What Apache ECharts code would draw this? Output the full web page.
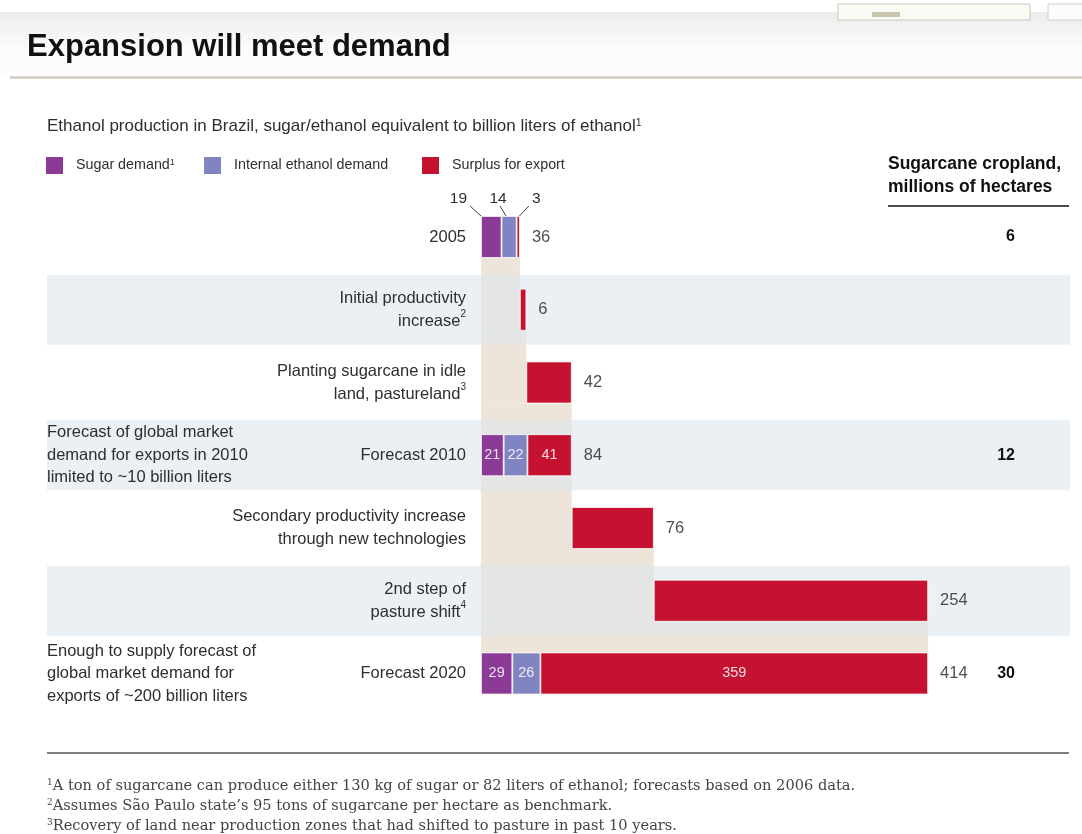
<!DOCTYPE html>
<html>
<head>
<meta charset="utf-8">
<script src="https://cdn.jsdelivr.net/npm/echarts@6/dist/echarts.min.js"></script>
<style>
  html, body { margin: 0; padding: 0; background: #fff; }
  #chart { width: 1082px; height: 834px; }
</style>
</head>
<body>
<div id="chart"></div>
<script>
// ---------------- data ----------------
const categories = [
  '2005',
  'Initial productivity\nincrease',
  'Planting sugarcane in idle\nland, pastureland',
  'Forecast 2010',
  'Secondary productivity increase\nthrough new technologies',
  '2nd step of\npasture shift',
  'Forecast 2020'
];
const categoryFootnotes = ['', '2', '3', '', '', '4', ''];
const rowKinds = ['total', 'step', 'step', 'total', 'step', 'step', 'total'];
const sugarDemand   = [19, '-', '-', 21, '-', '-', 29];
const ethanolDemand = [14, '-', '-', 22, '-', '-', 26];
const surplusExport = [3, 6, 42, 41, 76, 254, 359];
const croplandMha   = [6, '', '', 12, '', '', 30];
const sideNotes = [
  '', '', '',
  'Forecast of global market\ndemand for exports in 2010\nlimited to ~10 billion liters',
  '', '',
  'Enough to supply forecast of\nglobal market demand for\nexports of ~200 billion liters'
];
const seriesNames = ['Sugar demand', 'Internal ethanol demand', 'Surplus for export'];
const footnotes = [
  ['1', 'A ton of sugarcane can produce either 130 kg of sugar or 82 liters of ethanol; forecasts based on 2006 data.'],
  ['2', 'Assumes São Paulo state’s 95 tons of sugarcane per hectare as benchmark.'],
  ['3', 'Recovery of land near production zones that had shifted to pasture in past 10 years.']
];

// ---------------- derived (waterfall) ----------------
const num = v => (v === '-' || v === '' ? 0 : v);
const baseVals = [], endCum = [], cumBefore = [];
let cum = 0;
rowKinds.forEach((k, i) => {
  cumBefore.push(cum);
  if (k === 'total') {
    baseVals.push('-');
    cum = num(sugarDemand[i]) + num(ethanolDemand[i]) + num(surplusExport[i]);
  } else {
    baseVals.push(cum);
    cum += surplusExport[i];
  }
  endCum.push(cum);
});

// ---------------- styles ----------------
const SANS = "'Liberation Sans', Arial, sans-serif";
const SERIF = "'DejaVu Serif', 'Liberation Serif', serif";
const C_SUGAR = '#8b3a96', C_ETH = '#8084c0', C_SURP = '#c41230';
const BAR_H = 42;
const TXT = '#2e2e2e';
const FS = 16.5;

const chart = echarts.init(document.getElementById('chart'), null, { renderer: 'canvas' });

const barCommon = {
  type: 'bar', stack: 'w', barWidth: BAR_H, z: 3, silent: true,
  itemStyle: { borderColor: '#ffffff', borderWidth: 0.8 },
  label: {
    show: true, position: 'inside', color: 'rgba(255,255,255,0.85)',
    fontFamily: SANS, fontSize: 14.5,
    formatter: p => (p.dataIndex === 0 || rowKinds[p.dataIndex] !== 'total') ? '' : String(p.value)
  }
};

const legendCommon = {
  icon: 'rect', itemWidth: 17, itemHeight: 17, top: 157, padding: 0, selectedMode: false,
  itemStyle: { borderWidth: 0 },
  textStyle: {
    fontFamily: SANS, fontSize: 14.3, color: TXT, padding: [0, 0, 0, 8],
    rich: { s: { fontFamily: SANS, fontSize: 9, color: TXT, verticalAlign: 'top', lineHeight: 10 } }
  }
};

const option = {
  backgroundColor: '#ffffff',
  animation: false,
  legend: [
    Object.assign({}, legendCommon, { left: 46, data: [seriesNames[0]], formatter: n => n + '{s|1}' }),
    Object.assign({}, legendCommon, { left: 204, data: [seriesNames[1]] }),
    Object.assign({}, legendCommon, { left: 422, data: [seriesNames[2]] })
  ],
  grid: { left: 481, top: 200.6, width: 540, height: 509.25 },
  xAxis: { type: 'value', min: 0, max: 500, show: false },
  yAxis: [
    {
      type: 'category', inverse: true, data: categories, z: 10,
      axisLine: { show: false }, axisTick: { show: false }, splitLine: { show: false },
      axisLabel: {
        interval: 0, margin: 15, fontFamily: SANS, fontSize: FS, lineHeight: 23, color: TXT,
        formatter: (v, i) => v + (categoryFootnotes[i] ? '{s|' + categoryFootnotes[i] + '}' : ''),
        rich: { s: { fontFamily: SANS, fontSize: 10, color: TXT, verticalAlign: 'top', lineHeight: 12 } }
      }
    },
    {
      type: 'category', inverse: true, data: categories, position: 'right', offset: 0, z: 10,
      axisLine: { show: false }, axisTick: { show: false }, splitLine: { show: false },
      axisLabel: {
        interval: 0, margin: -6, align: 'right', fontFamily: SANS, fontSize: 16, fontWeight: 'bold', color: '#111',
        formatter: (v, i) => String(croplandMha[i])
      }
    },
    {
      type: 'category', inverse: true, data: categories, position: 'left', offset: 434, z: 10,
      axisLine: { show: false }, axisTick: { show: false }, splitLine: { show: false },
      axisLabel: {
        interval: 0, margin: 0, align: 'left', fontFamily: SANS, fontSize: FS, lineHeight: 22.5, color: TXT,
        formatter: (v, i) => sideNotes[i]
      }
    }
  ],
  series: [
    // beige running-total shadow
    {
      type: 'custom', z: 1, silent: true, clip: false,
      encode: { x: 0, y: 1 },
      data: cumBefore.map((c, i) => [c, i]).filter(d => d[1] > 0),
      renderItem: (params, api) => {
        const i = api.value(1);
        const p0 = api.coord([0, i]);
        const p1 = api.coord([api.value(0), i]);
        const band = api.size([0, 1])[1];
        const yBottom = p0[1] + BAR_H / 2;
        return {
          type: 'rect',
          shape: { x: p0[0], y: yBottom - band, width: p1[0] - p0[0], height: band },
          style: { fill: '#ede4da' }
        };
      }
    },
    // alternating row bands
    {
      type: 'custom', z: 2, silent: true, clip: false,
      encode: { x: 0, y: 1 },
      data: categories.map((c, i) => [0, i]).filter(d => d[1] % 2 === 1),
      renderItem: (params, api) => {
        const c = api.coord([0, api.value(1)]);
        return {
          type: 'rect',
          shape: { x: 47, y: c[1] - 35, width: 1023, height: 70 },
          style: { fill: 'rgba(222,230,238,0.62)' }
        };
      }
    },
    // invisible waterfall base
    Object.assign({}, barCommon, {
      name: 'base', data: baseVals,
      itemStyle: { color: 'transparent', borderWidth: 0 },
      label: { show: false }
    }),
    Object.assign({}, barCommon, { name: seriesNames[0], data: sugarDemand,
      itemStyle: Object.assign({}, barCommon.itemStyle, { color: C_SUGAR }) }),
    Object.assign({}, barCommon, { name: seriesNames[1], data: ethanolDemand,
      itemStyle: Object.assign({}, barCommon.itemStyle, { color: C_ETH }) }),
    Object.assign({}, barCommon, { name: seriesNames[2], data: surplusExport,
      itemStyle: Object.assign({}, barCommon.itemStyle, { color: C_SURP }) }),
    // end-of-bar value labels
    {
      type: 'scatter', z: 4, silent: true, symbolSize: 0,
      data: endCum.map((v, i) => [v, i]),
      label: {
        show: true, position: 'right', distance: 12, fontFamily: SANS, fontSize: FS, color: '#222',
        formatter: p => String(rowKinds[p.dataIndex] === 'total' ? endCum[p.dataIndex] : surplusExport[p.dataIndex])
      }
    },
    // 2005 component call-outs
    {
      type: 'custom', z: 4, silent: true, clip: false,
      encode: { x: 0, y: 1 },
      data: [
        [0, 0, sugarDemand[0], 0],
        [sugarDemand[0], 0, ethanolDemand[0], 1],
        [sugarDemand[0] + ethanolDemand[0] + surplusExport[0], 0, surplusExport[0], 2]
      ],
      renderItem: (params, api) => {
        const p = api.coord([api.value(0), api.value(1)]);
        const top = p[1] - BAR_H / 2;
        const kind = api.value(3);
        const cfg = [
          { lx0: 0, lx1: -11, tx: -14, align: 'right' },
          { lx0: 4.5, lx1: -1.5, tx: -3.5, align: 'center' },
          { lx0: -0.5, lx1: 9, tx: 12, align: 'left' }
        ][kind];
        return {
          type: 'group',
          children: [
            { type: 'line', shape: { x1: p[0] + cfg.lx0, y1: top, x2: p[0] + cfg.lx1, y2: top - 10 },
              style: { stroke: '#444', lineWidth: 1 } },
            { type: 'text', x: p[0] + cfg.tx, y: top - 17,
              style: { text: String(api.value(2)), fill: TXT, font: '15.5px ' + SANS,
                       textAlign: cfg.align, textVerticalAlign: 'middle' } }
          ]
        };
      }
    }
  ],
  graphic: [
    { type: 'rect', z: -10, shape: { x: 0, y: 12, width: 1082, height: 65 },
      style: { fill: new echarts.graphic.LinearGradient(0, 0, 0, 1, [
        { offset: 0, color: '#ececec' }, { offset: 0.55, color: '#fbfbfb' }, { offset: 1, color: '#fdfdfd' }]) } },
    { type: 'rect', shape: { x: 838, y: 4, width: 192, height: 16 }, style: { fill: '#fbfbf5', stroke: '#c9c9c0', lineWidth: 1 } },
    { type: 'rect', shape: { x: 872, y: 12, width: 28, height: 5 }, style: { fill: '#c7c6ac' } },
    { type: 'rect', shape: { x: 1048, y: 4, width: 40, height: 16 }, style: { fill: '#fbfbfb', stroke: '#d0d0d0', lineWidth: 1 } },
    { type: 'line', shape: { x1: 10, y1: 77.5, x2: 1082, y2: 77.5 }, style: { stroke: '#d3ccbd', lineWidth: 2.5 } },
    { type: 'text', x: 27, y: 47, style: { text: 'Expansion will meet demand', fill: '#111',
      font: 'bold 31px ' + SANS, textVerticalAlign: 'middle' } },
    { type: 'text', x: 47, y: 126, style: {
      text: 'Ethanol production in Brazil, sugar/ethanol equivalent to billion liters of ethanol{s|1}',
      font: '17px ' + SANS, fill: TXT, textVerticalAlign: 'middle',
      rich: { s: { fontSize: 10.5, fontFamily: SANS, fill: TXT, verticalAlign: 'top', lineHeight: 12 } } } },
    { type: 'text', x: 888, y: 175.5, style: { text: 'Sugarcane cropland,\nmillions of hectares',
      font: 'bold 17.5px ' + SANS, fill: '#111', lineHeight: 23, textVerticalAlign: 'middle' } },
    { type: 'line', shape: { x1: 888, y1: 206, x2: 1069, y2: 206 }, style: { stroke: '#111', lineWidth: 1.5 } },
    { type: 'line', shape: { x1: 47, y1: 753, x2: 1069, y2: 753 }, style: { stroke: '#555', lineWidth: 1.5 } },
    ...footnotes.map((f, k) => ({
      type: 'text', x: 47, y: 786 + k * 20,
      style: { text: '{s|' + f[0] + '}' + f[1], font: '14.6px ' + SERIF, fill: '#444', textVerticalAlign: 'middle',
        rich: { s: { fontSize: 9, fontFamily: SERIF, fill: '#444', verticalAlign: 'top', lineHeight: 10 } } }
    }))
  ]
};

chart.setOption(option);
</script>
</body>
</html>
